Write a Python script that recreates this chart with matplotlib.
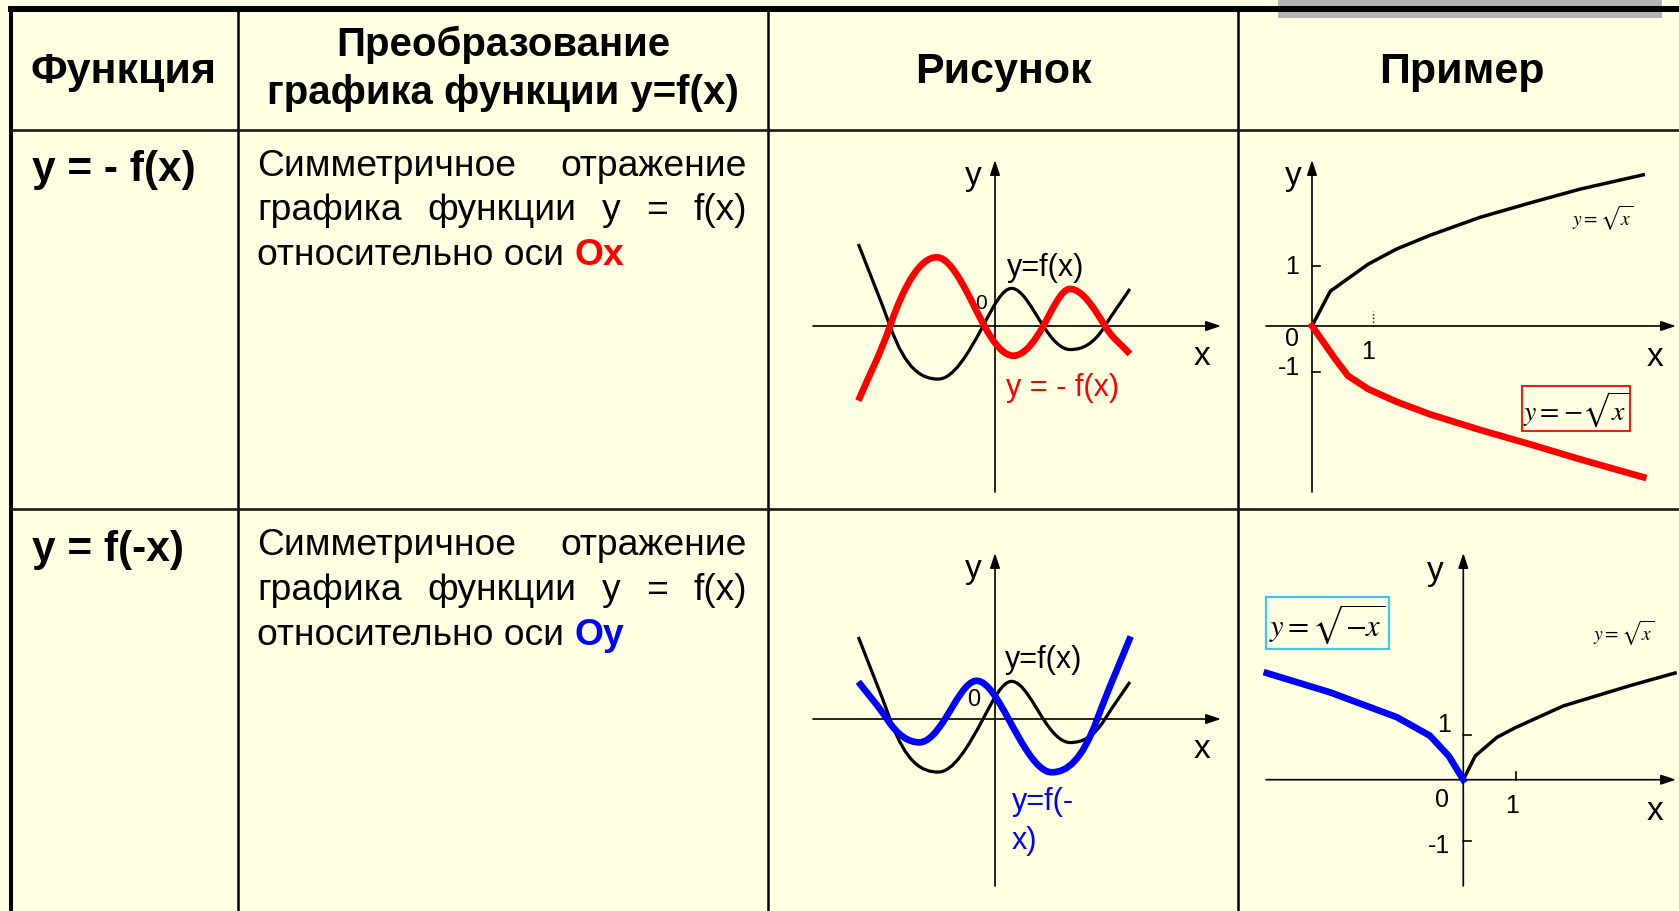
import matplotlib
matplotlib.use("Agg")
import matplotlib.pyplot as plt
from matplotlib.path import Path
from matplotlib.patches import PathPatch, Rectangle
import numpy as np

# ---------------- data ----------------
# table texts
HEADERS = ["Функция", "Преобразование\nграфика функции y=f(x)", "Рисунок", "Пример"]
ROW_FUNCS = ["y = - f(x)", "y = f(-x)"]
LINE1 = ["Симметричное", "отражение"]
LINE2 = ["графика", "функции", "y", "=", "f(x)"]
LINE3 = "относительно оси"
AXIS_NAMES = ["Ox", "Oy"]

# wave y = f(x) and its reflections (column "Рисунок"), arbitrary units
F_X = [-7.08, -5.44, -2.94, -0.62, 0.86, 2.50, 3.89, 5.70, 6.99]
F_Y = [4.25, 0.0, -2.75, 0.0, 1.95, 0.0, -1.22, 0.0, 1.92]
NEG_F_X = [-7.08, -5.44, -3.02, -0.55, 0.95, 2.50, 3.89, 5.70, 6.99]
NEG_F_Y = [-3.87, 0.0, 3.56, 0.0, -1.54, 0.0, 1.92, 0.0, -1.45]
F_NEG_X = [-7.08, -5.60, -3.92, -2.59, -0.95, 0.70, 2.94, 5.30, 7.03]
F_NEG_Y = [1.93, 0.0, -1.21, 0.0, 1.98, 0.0, -2.76, 0.0, 4.28]

# example 1: y = sqrt(x) and y = -sqrt(x)
SQ1_X = [0, 0.30, 0.92, 1.38, 1.93, 2.75, 3.57, 4.39, 5.43]
SQ1_Y = [0, 0.58, 1.03, 1.28, 1.51, 1.81, 2.05, 2.28, 2.52]
NSQ1_X = [0, 0.38, 0.59, 0.92, 1.38, 1.93, 2.75, 3.57, 4.39, 5.43]
NSQ1_Y = [0, -0.55, -0.83, -1.05, -1.26, -1.47, -1.73, -1.97, -2.22, -2.52]
EX1_YTICKS = [1.0, -0.77]
EX1_XTICKS = [1.0]

# example 2: y = sqrt(x) and y = sqrt(-x)
SQ2_X = [0, 0.23, 0.64, 1.0, 1.91, 3.18, 4.04]
SQ2_Y = [0, 0.53, 0.94, 1.16, 1.64, 2.09, 2.37]
SQM2_X = [-3.75, -2.54, -1.27, -0.64, -0.28, 0]
SQM2_Y = [2.37, 1.94, 1.39, 0.98, 0.53, 0]
EX2_YTICKS = [1.0, -1.36]
EX2_XTICKS = [1.0]

# ---------------- styling ----------------
plt.rcParams["font.family"] = ["Liberation Sans", "DejaVu Sans"]
plt.rcParams["mathtext.fontset"] = "stix"
BG = "#FFFFE1"
RED = "#FF0000"
BLUE = "#0000FF"
CYAN = "#3FC5F0"

W, H = 1679, 912
fig = plt.figure(figsize=(W / 100, H / 100), dpi=100)
fig.patch.set_facecolor(BG)
base = fig.add_axes([0, 0, 1, 1])
base.set_xlim(0, W)
base.set_ylim(H, 0)
base.axis("off")
renderer = fig.canvas.get_renderer()

# ---------------- table grid ----------------
base.add_patch(Rectangle((1278, 0), 384, 19, color="#B3B3B3", lw=0, zorder=1))
base.plot([8, W], [9.7, 9.7], color="black", lw=4.3, solid_capstyle="butt", zorder=2)
base.plot([11, 11], [7, H], color="black", lw=2.9, solid_capstyle="butt", zorder=2)
for x in [237.7, 767.8, 1237.8]:
    base.plot([x, x], [9, H], color="black", lw=1.8, solid_capstyle="butt", zorder=2)
for y in [130.6, 509.7]:
    base.plot([10, W], [y, y], color="#1a1a1a", lw=1.9, solid_capstyle="butt", zorder=2)

# ---------------- header ----------------
hk = dict(fontweight="bold", color="black", ha="center", va="baseline")
base.text(124, 83.5, HEADERS[0], fontsize=31, **hk)
l1, l2 = HEADERS[1].split("\n")
base.text(503, 55.5, l1, fontsize=29, **hk)
base.text(503, 104, l2, fontsize=29, **hk)
base.text(1003, 83.5, HEADERS[2], fontsize=31, **hk)
base.text(1462, 83.5, HEADERS[3], fontsize=31, **hk)

# ---------------- rows text ----------------
def width_of(t):
    return t.get_window_extent(renderer).width

def justified(words, left, right, y, **kw):
    ts = [base.text(0, y, w, ha="left", va="baseline", **kw) for w in words]
    ws = [width_of(t) for t in ts]
    gap = (right - left - sum(ws)) / (len(words) - 1)
    x = left
    for t, w in zip(ts, ws):
        t.set_x(x)
        x += w + gap

body = dict(fontsize=26.8, color="black")
for r, (dy, name_col) in enumerate([(0, RED), (380, BLUE)]):
    base.text(32, 181 + dy, ROW_FUNCS[r], fontsize=30.5, fontweight="bold",
              ha="left", va="baseline")
    justified(LINE1, 257, 747, 175.5 + dy, **body)
    justified(LINE2, 257, 747, 220.5 + dy, **body)
    t3 = base.text(257, 265.5 + dy, LINE3, ha="left", va="baseline", **body)
    ta = base.text(0, 0, "о о", **body)
    tb = base.text(0, 0, "оо", **body)
    sp = width_of(ta) - width_of(tb)
    ta.remove(); tb.remove()
    base.text(257 + width_of(t3) + sp, 265.5 + dy, AXIS_NAMES[r], ha="left",
              va="baseline", fontsize=26.8, fontweight="bold", color=name_col)

# ---------------- helpers for the small plots ----------------
def sub_axes(box, origin, scale):
    x0, y0, x1, y1 = box
    ox, oy = origin
    sx, sy = scale
    ax = fig.add_axes([x0 / W, 1 - y1 / H, (x1 - x0) / W, (y1 - y0) / H])
    ax.set_xlim((x0 - ox) / sx, (x1 - ox) / sx)
    ax.set_ylim((oy - y1) / sy, (oy - y0) / sy)
    ax.axis("off")
    ax.patch.set_alpha(0)
    ax._o = (ox, oy, sx, sy)
    return ax

def px(ax, x, y):
    ox, oy, sx, sy = ax._o
    return ((x - ox) / sx, (oy - y) / sy)

def arrow(ax, p0, p1):
    ax.annotate("", xy=px(ax, *p1), xytext=px(ax, *p0),
                arrowprops=dict(arrowstyle="-|>,head_length=0.9,head_width=0.3",
                                mutation_scale=10, lw=1.2, color="black",
                                shrinkA=0, shrinkB=0), zorder=1)

def smooth(ax, xs, ys, color, lw, z):
    xs = np.asarray(xs, float)
    ys = np.asarray(ys, float)
    m = np.diff(ys) / np.diff(xs)
    d = np.zeros(len(xs))
    d[0], d[-1] = m[0], m[-1]
    for k in range(1, len(xs) - 1):
        if m[k - 1] * m[k] > 0:
            d[k] = 1.5 * 0.5 * (m[k - 1] + m[k])
    verts = [(xs[0], ys[0])]
    codes = [Path.MOVETO]
    for k in range(len(xs) - 1):
        h = xs[k + 1] - xs[k]
        verts += [(xs[k] + h / 3, ys[k] + d[k] * h / 3),
                  (xs[k + 1] - h / 3, ys[k + 1] - d[k + 1] * h / 3),
                  (xs[k + 1], ys[k + 1])]
        codes += [Path.CURVE4] * 3
    ax.add_patch(PathPatch(Path(verts, codes), fill=False, edgecolor=color,
                           lw=lw, zorder=z, capstyle="butt"))

lab = dict(ha="center", va="center", color="black")

# ---------------- column "Рисунок", row 1 ----------------
a1 = sub_axes((770, 135, 1235, 505), (995, 327), (19.3, 19.3))
arrow(a1, (813, 327), (1221, 327))
arrow(a1, (995, 493), (995, 161))
smooth(a1, F_X, F_Y, "black", 2.3, 2)
smooth(a1, NEG_F_X, NEG_F_Y, RED, 4.8, 3)
base.text(973, 177, "y", fontsize=24, **lab)
base.text(1202, 357, "x", fontsize=24, **lab)
base.text(981, 304, "0", fontsize=15, **lab)
base.text(1046, 268, "y=f(x)", fontsize=22, **lab)
base.text(1063, 388, "y = - f(x)", fontsize=22, ha="center", va="center", color=RED)

# ---------------- column "Рисунок", row 2 ----------------
a2 = sub_axes((770, 515, 1235, 905), (995, 720), (19.3, 19.3))
arrow(a2, (813, 720), (1221, 720))
arrow(a2, (995, 887), (995, 554))
smooth(a2, F_X, F_Y, "black", 2.3, 2)
smooth(a2, F_NEG_X, F_NEG_Y, BLUE, 4.8, 3)
base.text(973, 570, "y", fontsize=24, **lab)
base.text(1202, 750, "x", fontsize=24, **lab)
base.text(973.5, 700, "0", fontsize=17, **lab)
base.text(1044, 660, "y=f(x)", fontsize=22, **lab)
base.text(1012, 802, "y=f(-", fontsize=22, ha="left", va="center", color=BLUE)
base.text(1012, 841, "x)", fontsize=22, ha="left", va="center", color=BLUE)

# ---------------- column "Пример", row 1 ----------------
b1 = sub_axes((1242, 135, 1679, 505), (1312, 327), (61, 60))
arrow(b1, (1266, 327), (1676, 327))
arrow(b1, (1312, 493), (1312, 161))
for yt in EX1_YTICKS:
    b1.plot([0, 8 / 61], [yt, yt], color="black", lw=1.2, zorder=1)
for xt in EX1_XTICKS:
    b1.plot([xt, xt], [0, 15 / 60], color="black", lw=1.0, ls=":", zorder=1)
b1.plot(SQ1_X, SQ1_Y, color="black", lw=2.5, zorder=2, solid_joinstyle="miter")
b1.plot(NSQ1_X, NSQ1_Y, color=RED, lw=4.8, zorder=3, solid_joinstyle="miter")
base.text(1293, 177, "y", fontsize=24, **lab)
base.text(1655, 358, "x", fontsize=24, **lab)
base.text(1292, 267, "1", fontsize=18, **lab)
base.text(1292, 339, "0", fontsize=18, **lab)
base.text(1289, 368, "-1", fontsize=18, **lab)
base.text(1368, 352, "1", fontsize=18, **lab)
base.text(1603, 218, r"$y=\sqrt{x}$", fontsize=14, **lab)
base.add_patch(Rectangle((1522, 387), 108, 45, fill=False, edgecolor=RED, lw=1.3))
base.text(1576, 410, r"$y=-\sqrt{x}$", fontsize=20, **lab)

# ---------------- column "Пример", row 2 ----------------
b2 = sub_axes((1242, 515, 1679, 905), (1463.3, 780.7), (52.4, 45))
arrow(b2, (1266, 780.7), (1676, 780.7))
arrow(b2, (1463.3, 887), (1463.3, 554))
for yt in EX2_YTICKS:
    b2.plot([0, 8 / 52.4], [yt, yt], color="black", lw=1.2, zorder=1)
for xt in EX2_XTICKS:
    b2.plot([xt, xt], [0, 8 / 45], color="black", lw=1.2, zorder=1)
b2.plot(SQ2_X, SQ2_Y, color="black", lw=2.5, zorder=2, solid_joinstyle="miter")
b2.plot(SQM2_X, SQM2_Y, color=BLUE, lw=4.8, zorder=3, solid_joinstyle="miter")
base.text(1435, 572, "y", fontsize=24, **lab)
base.text(1655, 812, "x", fontsize=24, **lab)
base.text(1444, 725, "1", fontsize=18, **lab)
base.text(1442, 800, "0", fontsize=18, **lab)
base.text(1439, 846, "-1", fontsize=18, **lab)
base.text(1512, 806, "1", fontsize=18, **lab)
base.text(1624, 633, r"$y=\sqrt{x}$", fontsize=14, **lab)
base.add_patch(Rectangle((1266, 598), 123, 52, fill=False, edgecolor=CYAN, lw=1.6))
base.text(1327, 624, r"$y=\sqrt{-x}$", fontsize=22, **lab)

fig.savefig("out.png", dpi=100, facecolor=BG)
